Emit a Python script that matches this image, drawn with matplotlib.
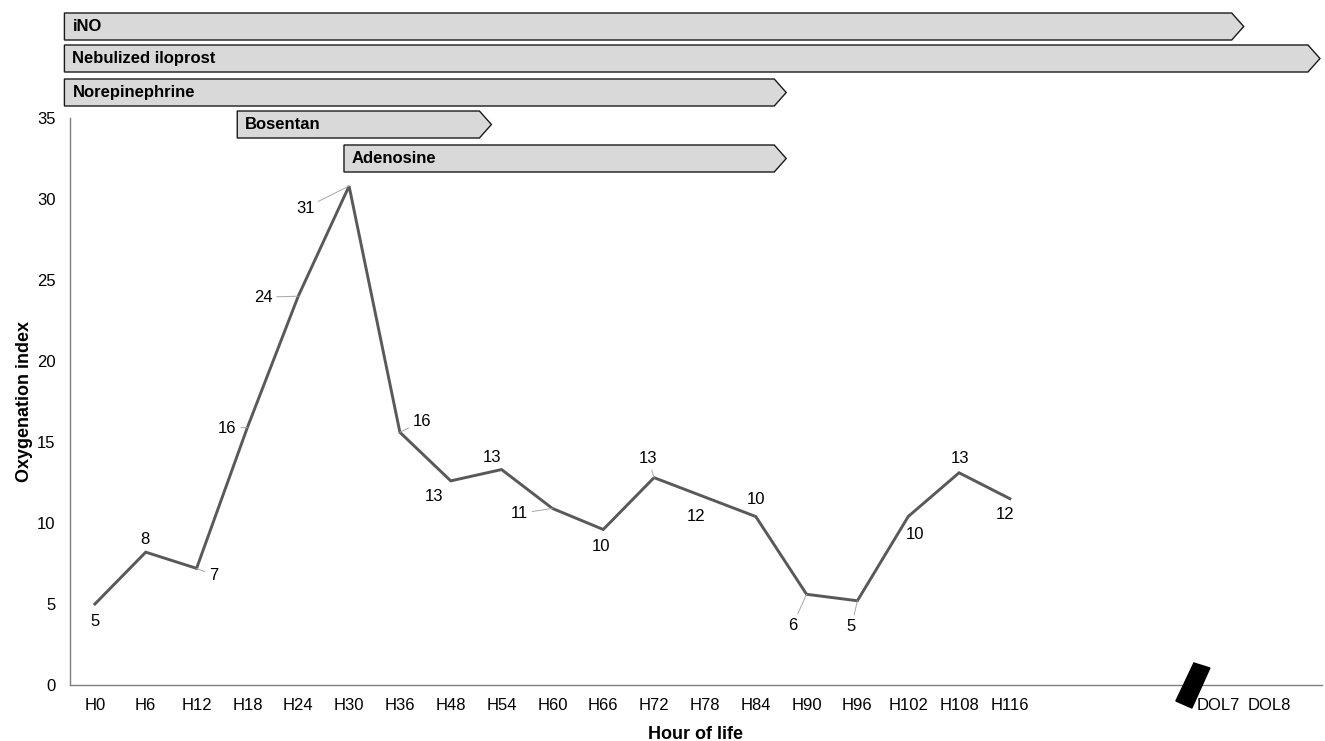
import matplotlib
matplotlib.use("Agg")
import matplotlib.pyplot as plt
from matplotlib.patches import Polygon
import matplotlib.transforms as mtransforms

plt.rcParams['font.family'] = ['Liberation Sans', 'DejaVu Sans']

# ---- data ----
categories = ["H0", "H6", "H12", "H18", "H24", "H30", "H36", "H48", "H54", "H60",
              "H66", "H72", "H78", "H84", "H90", "H96", "H102", "H108", "H116",
              "", "", "", "DOL7", "DOL8"]
oi_values = [5.0, 8.2, 7.2, 15.9, 24.0, 30.8, 15.6, 12.6, 13.3, 10.9,
             9.6, 12.8, 11.6, 10.4, 5.6, 5.2, 10.4, 13.1, 11.5]

treatments = ["iNO", "Nebulized iloprost", "Norepinephrine", "Bosentan", "Adenosine"]
treat_start = [-0.6, -0.6, -0.6, 2.8, 4.9]
treat_end = [22.6, 24.1, 13.6, 7.8, 13.6]

# ---- layout / style ----
# label offsets (pixels: dx right, dy down) and whether a leader line is drawn
label_offsets = [(0, 17), (-1, -13), (17, 7), (-20, 1), (-35, 1), (-44, 22), (22, -11),
                 (-17, 16), (-10, -12), (-33, 5), (-2, 17), (-6, -19), (-9, 19), (0, -17),
                 (-14, 31), (-6, 26), (7, 18), (1, -14), (-5, 16)]
leaders = [False, False, True, True, True, True, True, False, False, True,
           False, True, False, False, True, True, False, False, False]
bar_rows_px = [(13, 40), (45, 72), (79, 106), (111, 138), (145, 172)]

W, H = 1325, 741
fig = plt.figure(figsize=(W / 100, H / 100), dpi=100)
ax_l, ax_r, ax_b, ax_t = 70, 1322, 685, 118
ax = fig.add_axes([ax_l / W, 1 - ax_b / H, (ax_r - ax_l) / W, (ax_b - ax_t) / H])

x = list(range(len(categories)))
ax.set_xlim(-0.49, 24.14)
ax.set_ylim(0, 35)

line_color = "#595959"
ax.plot(x[:len(oi_values)], oi_values, color=line_color, lw=2.1, solid_joinstyle='miter')

FS = 12
px_per_pt = 100 / 72.0
for i, v in enumerate(oi_values):
    dx, dy = label_offsets[i]
    txt = "%.0f" % v
    kw = dict(textcoords="offset points", ha="center", va="center", fontsize=FS)
    if leaders[i]:
        kw["arrowprops"] = dict(arrowstyle="-", color="#a6a6a6", lw=0.7,
                                shrinkA=1, shrinkB=0)
    ax.annotate(txt, xy=(i, v), xytext=(dx / px_per_pt, -dy / px_per_pt), **kw)

# axes styling
for s in ["top", "right"]:
    ax.spines[s].set_visible(False)
for s in ["left", "bottom"]:
    ax.spines[s].set_color("#7f7f7f")
    ax.spines[s].set_linewidth(1.0)
ax.set_xticks(x)
ax.set_xticklabels(categories, fontsize=FS)
ax.set_yticks(range(0, 36, 5))
ax.tick_params(axis="both", length=0, labelsize=FS)
ax.tick_params(axis="x", pad=9)
ax.tick_params(axis="y", pad=10.5)
# the DOL labels sit a little further right in the reference
for lbl in ax.get_xticklabels()[22:]:
    lbl.set_transform(lbl.get_transform() + mtransforms.ScaledTranslation(0.05, 0, fig.dpi_scale_trans))
ax.set_ylabel("Oxygenation index", fontsize=13, fontweight="bold")
ax.set_xlabel("Hour of life", fontsize=13, fontweight="bold")
ax.yaxis.set_label_coords((33 - ax_l) / (ax_r - ax_l), 0.5)
ax.xaxis.set_label_coords(0.5, (ax_b - 726) / (ax_b - ax_t))

# treatment chevron bars
ypx = (ax_b - ax_t) / 35.0
xpx = (ax_r - ax_l) / (24.14 + 0.49)
tip = 12 / xpx
for name, s, e, (top_px, bot_px) in zip(treatments, treat_start, treat_end, bar_rows_px):
    y_top = (ax_b - top_px) / ypx
    y_bot = (ax_b - bot_px) / ypx
    y_mid = (y_top + y_bot) / 2
    poly = Polygon([(s, y_bot), (s, y_top), (e - tip, y_top), (e, y_mid), (e - tip, y_bot)],
                   closed=True, facecolor="#d9d9d9", edgecolor="#1a1a1a", lw=1.0,
                   clip_on=False, zorder=3)
    ax.add_patch(poly)
    ax.text(s + 8 / xpx, y_mid, name, ha="left", va="center", fontsize=FS,
            fontweight="bold", zorder=4, clip_on=False)

# axis break marker
brk_x = 21.6
trans = fig.dpi_scale_trans + mtransforms.ScaledTranslation(brk_x, 0, ax.transData)
brk = Polygon([(-0.17, -0.16), (0.01, 0.22), (0.17, 0.17), (-0.01, -0.23)], closed=True,
              facecolor="black", edgecolor="black", transform=trans, clip_on=False, zorder=5)
ax.add_patch(brk)

fig.savefig("out.png", dpi=100)
